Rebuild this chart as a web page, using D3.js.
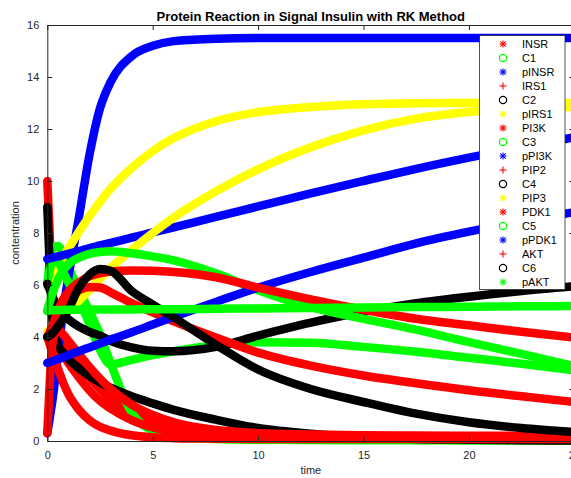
<!DOCTYPE html>
<html>
<head>
<meta charset="utf-8">
<script src="https://cdn.jsdelivr.net/npm/d3@7"></script>
<style>
html,body{margin:0;padding:0;background:#fff;overflow:hidden;}
text{font-family:"Liberation Sans",Arial,Helvetica,sans-serif;}
</style>
</head>
<body>
<svg id="chart" width="571" height="478"></svg>
<script>
// ---- data ----
const times = [0, 0.1, 0.25, 0.5, 0.75, 1, 1.5, 2, 2.5, 3, 4, 5, 6, 8, 10, 12.5, 15, 17.5, 20, 22.5, 25];

const INSR  = [10, 8.2, 5.4, 4.2, 3.9, 3.6, 3.0, 2.45, 2.0, 1.6, 1.05, 0.72, 0.52, 0.33, 0.25, 0.21, 0.19, 0.18, 0.18, 0.18, 0.18];
const C1    = [6.0, 6.8, 7.4, 7.5, 7.2, 6.7, 5.8, 5.0, 4.1, 3.0, 1.1, 0.4, 0.2, 0.08, 0.05, 0.04, 0.03, 0.03, 0.02, 0.02, 0.02];
const pINSR = [0.3, 0.8, 1.6, 3.3, 5.0, 6.3, 8.6, 11.0, 12.8, 13.8, 14.8, 15.2, 15.38, 15.47, 15.5, 15.5, 15.5, 15.5, 15.5, 15.5, 15.5];
const IRS1  = [4.0, 3.95, 3.85, 3.6, 3.3, 3.0, 2.45, 1.95, 1.55, 1.25, 0.8, 0.52, 0.36, 0.22, 0.17, 0.15, 0.15, 0.15, 0.15, 0.15, 0.15];
const C2    = [9.0, 7.0, 4.6, 3.7, 3.4, 3.15, 2.8, 2.5, 2.25, 2.05, 1.72, 1.45, 1.2, 0.82, 0.5, 0.28, 0.15, 0.08, 0.05, 0.03, 0.02];
const pIRS1 = [6.0, 6.15, 6.35, 6.75, 7.1, 7.4, 8.05, 8.65, 9.2, 9.7, 10.5, 11.15, 11.65, 12.3, 12.65, 12.85, 12.95, 12.99, 13.0, 13.0, 13.0];
const PI3K  = [0.3, 2.0, 3.8, 4.3, 4.1, 3.85, 3.35, 2.85, 2.4, 2.0, 1.4, 1.0, 0.72, 0.42, 0.3, 0.25, 0.22, 0.21, 0.2, 0.2, 0.2];
const C3    = [6.0, 6.5, 6.9, 6.9, 6.5, 6.1, 5.4, 4.5, 3.5, 2.95, 3.12, 3.3, 3.45, 3.68, 3.8, 3.78, 3.62, 3.43, 3.2, 2.97, 2.72];
const pPI3K = [7.0, 7.02, 7.05, 7.1, 7.15, 7.2, 7.3, 7.42, 7.52, 7.62, 7.82, 8.02, 8.22, 8.62, 9.02, 9.52, 10.0, 10.47, 10.9, 11.3, 11.68];
const PIP2  = [4.0, 3.75, 3.4, 2.8, 2.25, 1.8, 1.2, 0.8, 0.55, 0.4, 0.22, 0.14, 0.11, 0.09, 0.08, 0.08, 0.08, 0.08, 0.08, 0.08, 0.08];
const C4    = [6.05, 5.85, 5.55, 5.15, 4.85, 4.68, 4.4, 4.2, 4.05, 3.85, 3.6, 3.47, 3.45, 3.62, 4.05, 4.55, 4.97, 5.3, 5.55, 5.77, 5.95];
const PIP3  = [4.2, 4.25, 4.35, 4.55, 4.8, 5.0, 5.4, 5.8, 6.25, 6.65, 7.35, 8.0, 8.6, 9.6, 10.45, 11.3, 11.95, 12.4, 12.65, 12.78, 12.85];
const PDK1  = [4.0, 4.15, 4.4, 4.9, 5.25, 5.5, 5.8, 5.92, 5.9, 5.72, 5.3, 4.95, 4.6, 3.98, 3.4, 2.9, 2.52, 2.22, 1.95, 1.72, 1.5];
const C5    = [5.0, 5.3, 5.7, 6.2, 6.55, 6.8, 7.05, 7.2, 7.27, 7.3, 7.22, 7.1, 6.95, 6.45, 5.8, 5.15, 4.7, 4.28, 3.8, 3.35, 2.88];
const pPDK1 = [3.0, 3.03, 3.07, 3.15, 3.22, 3.3, 3.45, 3.6, 3.75, 3.9, 4.18, 4.48, 4.78, 5.35, 5.9, 6.5, 7.05, 7.6, 8.05, 8.45, 8.8];
const AKT   = [4.0, 4.15, 4.45, 5.0, 5.45, 5.75, 6.1, 6.33, 6.45, 6.52, 6.56, 6.55, 6.5, 6.3, 5.9, 5.45, 5.05, 4.7, 4.45, 4.2, 3.98];
const C6    = [4.0, 4.05, 4.15, 4.4, 4.7, 5.05, 5.9, 6.4, 6.62, 6.55, 5.77, 5.25, 4.75, 3.7, 2.75, 2.0, 1.5, 1.05, 0.72, 0.5, 0.35];
const pAKT  = [5.0, 5.02, 5.03, 5.04, 5.04, 5.05, 5.05, 5.05, 5.06, 5.06, 5.06, 5.07, 5.07, 5.09, 5.1, 5.12, 5.13, 5.15, 5.16, 5.18, 5.19];

const seriesNames = ["INSR","C1","pINSR","IRS1","C2","pIRS1","PI3K","C3","pPI3K","PIP2","C4","PIP3","PDK1","C5","pPDK1","AKT","C6","pAKT"];
const seriesValues = [INSR,C1,pINSR,IRS1,C2,pIRS1,PI3K,C3,pPI3K,PIP2,C4,PIP3,PDK1,C5,pPDK1,AKT,C6,pAKT];
const seriesColors = ["#ff0000","#00ff00","#0000ff","#ff0000","#000000","#ffff00","#ff0000","#00ff00","#0000ff","#ff0000","#000000","#ffff00","#ff0000","#00ff00","#0000ff","#ff0000","#000000","#00ff00"];
const seriesMarkers = ["*","o","*","+","o","*","*","o","*","+","o","*","*","o","*","+","o","*"];

const xTicks = [0, 5, 10, 15, 20, 25];
const yTicks = [0, 2, 4, 6, 8, 10, 12, 14, 16];
const titleText = "Protein Reaction in Signal Insulin with RK Method";
const xLabel = "time";
const yLabel = "contentration";

// ---- layout ----
const svg = d3.select("#chart");
const L = 47.3, R = 574.3, T = 25, B = 441;
const x = d3.scaleLinear().domain([0, 25]).range([L, R]);
const y = d3.scaleLinear().domain([0, 16]).range([B, T]);
const axisColor = "#262626";

// data lines
const line = d3.line().x((d, i) => x(times[i])).y(d => y(d)).curve(d3.curveMonotoneX);
const gLines = svg.append("g");
seriesValues.forEach((vals, k) => {
  gLines.append("path")
    .attr("d", line(vals))
    .attr("fill", "none")
    .attr("stroke", seriesColors[k])
    .attr("stroke-width", 8.5)
    .attr("stroke-linejoin", "round")
    .attr("stroke-linecap", "round");
});

// axes
const tickLen = 5;
const gx = svg.append("g").attr("transform", `translate(0,${B})`)
  .call(d3.axisBottom(x).tickValues(xTicks).tickSizeInner(-tickLen).tickSizeOuter(0).tickPadding(10).tickFormat(d3.format("d")));
const gxTop = svg.append("g").attr("transform", `translate(0,${T})`)
  .call(d3.axisTop(x).tickValues(xTicks).tickSizeInner(-tickLen).tickSizeOuter(0).tickFormat(""));
const gy = svg.append("g").attr("transform", `translate(${L},0)`)
  .call(d3.axisLeft(y).tickValues(yTicks).tickSizeInner(-tickLen).tickSizeOuter(0).tickPadding(8).tickFormat(d3.format("d")));
const gyR = svg.append("g").attr("transform", `translate(${R},0)`)
  .call(d3.axisRight(y).tickValues(yTicks).tickSizeInner(-tickLen).tickSizeOuter(0).tickFormat(""));
[gx, gxTop, gy, gyR].forEach(g => {
  g.select(".domain").attr("stroke", axisColor).attr("stroke-width", 1);
  g.selectAll(".tick line").attr("stroke", axisColor).attr("stroke-width", 1);
  g.selectAll(".tick text").attr("fill", axisColor).style("font-size", "11px")
    .style("font-family", '"Liberation Sans", Arial, sans-serif');
});
gx.selectAll(".tick text").attr("dy", "0.71em");

// labels
svg.append("text").attr("x", (L + R) / 2).attr("y", 21).attr("text-anchor", "middle")
  .attr("fill", "#000").style("font-size", "13px").style("font-weight", "bold").text(titleText);
svg.append("text").attr("x", (L + R) / 2).attr("y", 474).attr("text-anchor", "middle")
  .attr("fill", axisColor).style("font-size", "11px").text(xLabel);
svg.append("text").attr("transform", `translate(19,${(T + B) / 2}) rotate(-90)`).attr("text-anchor", "middle")
  .attr("fill", axisColor).style("font-size", "11px").text(yLabel);

// legend
const lg = svg.append("g");
lg.append("rect").attr("x", 479.5).attr("y", 35.5).attr("width", 85.5).attr("height", 254)
  .attr("fill", "#fff").attr("stroke", axisColor).attr("stroke-width", 0.8);
const ly = d3.scaleLinear().domain([0, 17]).range([44, 282]);
seriesNames.forEach((name, k) => {
  const cy = ly(k), cx = 503, c = seriesColors[k], s = 3.5;
  const m = seriesMarkers[k];
  if (m === "o") {
    lg.append("circle").attr("cx", cx).attr("cy", cy).attr("r", 3.6)
      .attr("fill", "none").attr("stroke", c).attr("stroke-width", 1.2);
  } else {
    const segs = [[-s, 0, s, 0], [0, -s, 0, s]];
    if (m === "*") segs.push([-s * 0.75, -s * 0.75, s * 0.75, s * 0.75], [-s * 0.75, s * 0.75, s * 0.75, -s * 0.75]);
    segs.forEach(q => lg.append("line")
      .attr("x1", cx + q[0]).attr("y1", cy + q[1]).attr("x2", cx + q[2]).attr("y2", cy + q[3])
      .attr("stroke", c).attr("stroke-width", 1.1));
  }
  lg.append("text").attr("x", 522).attr("y", cy).attr("dy", "0.35em")
    .attr("fill", "#000").style("font-size", "11px").text(name);
});
</script>
</body>
</html>
